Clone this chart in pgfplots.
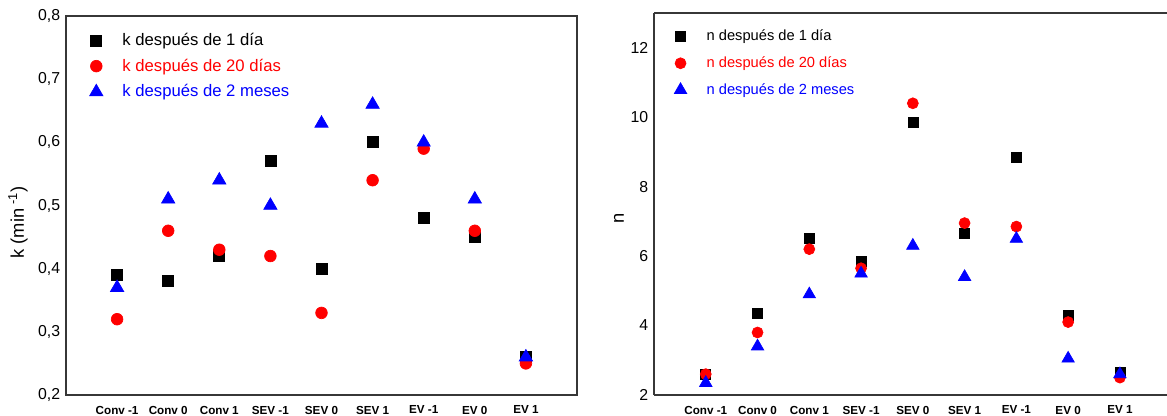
\documentclass[border=0pt]{standalone}
\usepackage{pgfplots}
\usepackage{pgfplotstable}
\pgfplotsset{compat=1.18}
\usepackage{fontspec}
\setmainfont{Liberation Sans}

\definecolor{axgray}{RGB}{55,55,55}

% k values (min^-1)
\pgfplotstableread{
idx d1   d20  m2
0   0.39 0.32 0.37
1   0.38 0.46 0.51
2   0.42 0.43 0.54
3   0.57 0.42 0.50
4   0.40 0.33 0.63
5   0.60 0.54 0.66
6   0.48 0.59 0.60
7   0.45 0.46 0.51
8   0.26 0.25 0.26
}\ktable

% n values
\pgfplotstableread{
idx d1   d20   m2
0   2.60 2.60  2.35
1   4.35 3.80  3.40
2   6.50 6.20  4.90
3   5.85 5.65  5.50
4   9.85 10.40 6.30
5   6.65 6.95  5.40
6   8.85 6.85  6.50
7   4.30 4.10  3.05
8   2.65 2.50  2.60
}\ntable

\pgfplotsset{
  base/.style={
    scale only axis,
    anchor=south west,
    xtick={0,...,8},
    xticklabels={Conv -1, Conv 0, Conv 1, SEV -1, SEV 0, SEV 1, EV -1, EV 0, EV 1},
    major tick length=0pt,
    axis line style={axgray, line width=0.9pt},
    /pgf/number format/assume math mode=true,
    tick label style={font=\fontsize{9.5}{11}\selectfont},
    xticklabel style={font=\bfseries\fontsize{7}{8}\selectfont, yshift=-3pt},
    legend cell align=left,
    legend image code/.code={\path[draw=none, fill=none] (-3pt,0pt) rectangle (13.7pt,0pt); \draw[##1, only marks] plot coordinates {(0pt,0pt)};},
  },
}

\begin{document}
\begin{tikzpicture}
\path[use as bounding box] (0,0) rectangle (700.2pt,249pt);

\begin{axis}[base,
  at={(39.6pt,12pt)},
  width=306.6pt, height=227.4pt,
  xmin=-1, xmax=9,
  ymin=0.2, ymax=0.8,
  ytick={0.2,0.3,...,0.8},
  yticklabel style={/pgf/number format/.cd, use comma, fixed, fixed zerofill, precision=1},
  ylabel={k (min\textsuperscript{ -1})},
  ylabel style={font=\fontsize{11}{13}\selectfont, at={(rel axis cs:0,0.455)}, anchor=center, yshift=28.8pt},
  legend style={draw=none, fill=none, at={(rel axis cs:0,1)}, anchor=north west, xshift=11pt, yshift=-6pt,
    font=\fontsize{10}{12}\selectfont, row sep=2.6pt},
]
\addplot[only marks, mark=square*, mark size=3.3pt, black] table[x=idx, y=d1] {\ktable};
\addlegendentry{k después de 1 día}
\addplot[only marks, mark=*, mark size=3.5pt, red] table[x=idx, y=d20] {\ktable};
\addlegendentry[text=red]{k después de 20 días}
\addplot[only marks, mark=triangle*, mark size=4.6pt, blue] table[x=idx, y=m2] {\ktable};
\addlegendentry[text=blue]{k después de 2 meses}
\end{axis}

\begin{axis}[base,
  at={(392.4pt,12pt)},
  width=307.8pt, height=229.2pt,
  xmin=-1, xmax=8.91,
  ymin=2, ymax=13,
  ytick={2,4,...,12},
  axis x line*=box, axis y line*=left,
  xticklabel pos=lower,
  ylabel={n},
  ylabel style={font=\fontsize{11}{13}\selectfont, at={(rel axis cs:0,0.463)}, anchor=center, yshift=21pt},
  legend style={draw=none, fill=none, at={(rel axis cs:0,1)}, anchor=north west, xshift=9pt, yshift=-6pt,
    font=\fontsize{8.8}{10}\selectfont, row sep=4pt},
]
\addplot[only marks, mark=square*, mark size=3pt, black] table[x=idx, y=d1] {\ntable};
\addlegendentry{n después de 1 día}
\addplot[only marks, mark=*, mark size=3.3pt, red] table[x=idx, y=d20] {\ntable};
\addlegendentry[text=red]{n después de 20 días}
\addplot[only marks, mark=triangle*, mark size=4.3pt, blue] table[x=idx, y=m2] {\ntable};
\addlegendentry[text=blue]{n después de 2 meses}
\end{axis}
\end{tikzpicture}
\end{document}
